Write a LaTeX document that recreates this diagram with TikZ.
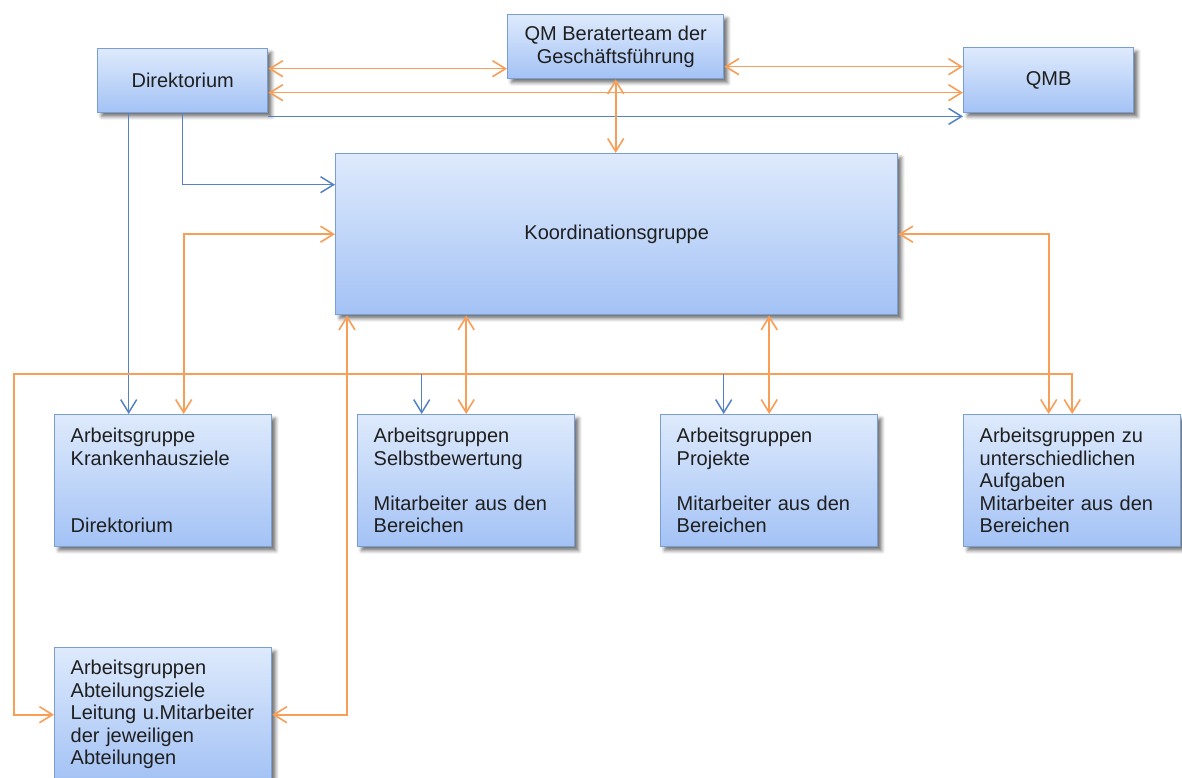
\documentclass[tikz,border=0pt]{standalone}
\usepackage{fontspec}
\setmainfont{Liberation Sans}
\usetikzlibrary{arrows.meta,shadows.blur}
\definecolor{boxtop}{RGB}{222,234,252}
\definecolor{boxbot}{RGB}{163,194,245}
\definecolor{boxline}{RGB}{120,158,212}
\definecolor{orl}{RGB}{248,158,86}
\definecolor{bll}{RGB}{84,130,196}
\begin{document}
\begin{tikzpicture}[x=1pt,y=-1pt,
  >={Straight Barb[length=13pt,width=16pt]},
  box/.style={draw=boxline, line width=1.4pt, top color=boxtop, bottom color=boxbot,
    blur shadow={shadow xshift=4pt,shadow yshift=-4pt,shadow blur radius=3.5pt,shadow opacity=55},
    font=\fontsize{20}{22.5}\selectfont, text=black!88, inner sep=0pt, anchor=north west},
  cbox/.style={box, align=center},
  lbox/.style={box, minimum height=132pt, text width=185pt, inner xsep=16pt, align=left},
  orc/.style={draw=orl, line width=1.6pt},
  blc/.style={draw=bll, line width=1.5pt}]
\useasboundingbox (0,0) rectangle (1182,778);

% boxes
\node[cbox, minimum width=170pt, minimum height=64pt] (dir) at (97,48) {Direktorium};
\node[cbox, minimum width=216pt, minimum height=64pt] (qm) at (507,14) {QM Beraterteam der\\Geschäftsführung};
\node[cbox, minimum width=170pt, minimum height=65pt] (qmb) at (963,47) {QMB};
\node[cbox, minimum width=562pt, minimum height=161pt] (koord) at (335,153) {Koordinationsgruppe};
\node[lbox] (kh) at (54,414) {Arbeitsgruppe\\Krankenhausziele\\[45pt]Direktorium};
\node[lbox] (selb) at (357,414) {Arbeitsgruppen\\Selbstbewertung\\[22.5pt]Mitarbeiter aus den\\Bereichen};
\node[lbox] (proj) at (660,414) {Arbeitsgruppen\\Projekte\\[22.5pt]Mitarbeiter aus den\\Bereichen};
\node[lbox] (unt) at (963,414) {Arbeitsgruppen zu\\unterschiedlichen\\Aufgaben\\Mitarbeiter aus den\\Bereichen};
\node[lbox, minimum height=134pt] (abt) at (54,647) {Arbeitsgruppen\\Abteilungsziele\\Leitung u.Mitarbeiter\\der jeweiligen\\Abteilungen};

% helper coordinates
\coordinate (d1) at ([yshift=12pt]dir.east);
\coordinate (d2) at ([yshift=-12pt]dir.east);
\coordinate (d3) at ([yshift=-3pt]dir.south east);
\coordinate (q1) at ([yshift=-20pt]qm.east);
\coordinate (d4) at ([xshift=-54pt]dir.south);
\coordinate (loopL) at (14,374);
\coordinate (sb) at ([xshift=-44.5pt]selb.north);
\coordinate (pb) at ([xshift=-45.5pt]proj.north);

% top connectors
\draw[orc,<->] (d1) -- (d1 -| qm.west);
\draw[orc,<->] (q1) -- (q1 -| qmb.west);
\draw[orc,<->] (d2) -- (d2 -| qmb.west);
\draw[blc,->] (d3) -- (d3 -| qmb.west);
\draw[orc,<->] (qm.south) -- (qm.south |- koord.north);
\draw[blc,->] (dir.south) |- ([yshift=49.5pt]koord.west);
\draw[blc,->] (d4) -- (d4 |- kh.north);

% koordination to groups
\draw[orc,<->] (koord.west) -| ([xshift=20.5pt]kh.north);
\draw[orc,<->] (koord.south -| selb.north) -- (selb.north);
\draw[orc,<->] (koord.south -| proj.north) -- (proj.north);
\draw[orc,<->] (koord.east) -| ([xshift=-23.5pt]unt.north);
\draw[orc,<->] (unt.north) |- (loopL) |- (abt.west);
\draw[blc,->] (sb |- loopL) -- (sb);
\draw[blc,->] (pb |- loopL) -- (pb);
\draw[orc,<->] (abt.east) -| ([xshift=12pt]koord.south west);
\end{tikzpicture}
\end{document}
